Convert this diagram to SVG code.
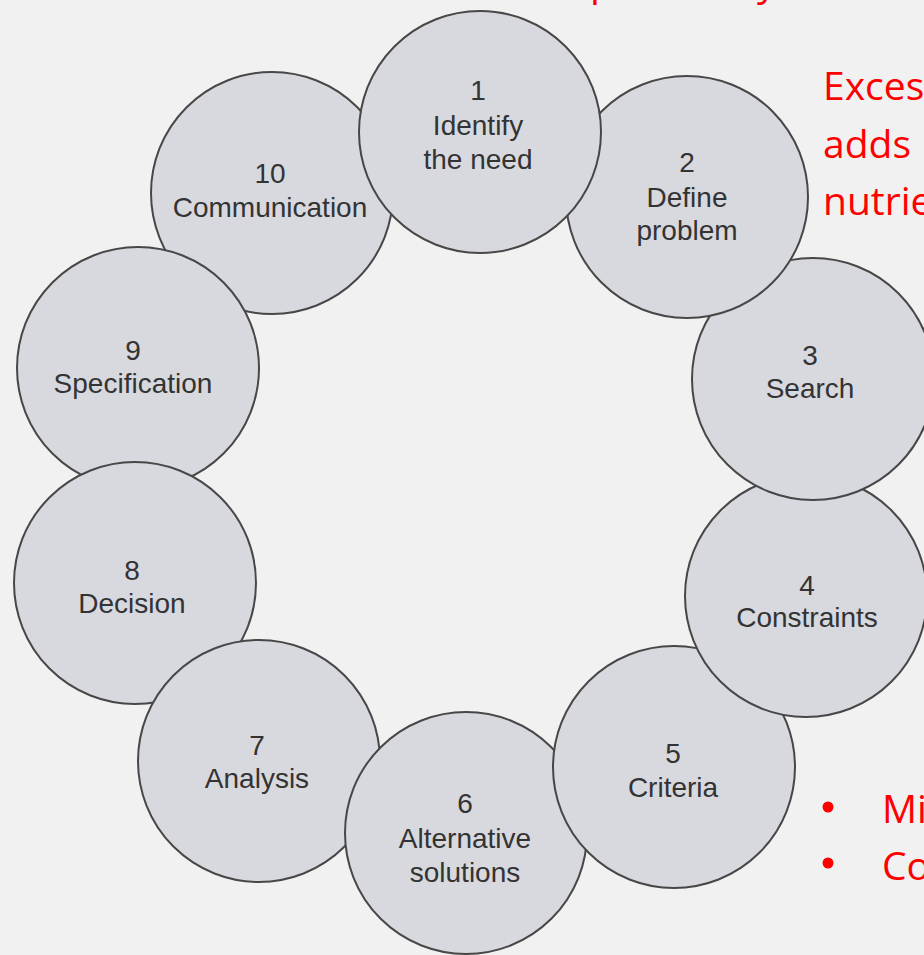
<svg xmlns="http://www.w3.org/2000/svg" width="924" height="955" viewBox="0 0 924 955">
  <style>
    .bubble { fill: #d8d9df; stroke: #474747; stroke-width: 2; }
    .lbl { font-family: "Liberation Sans", Arial, sans-serif; font-size: 28px; fill: #333333; text-anchor: middle; }
    .note { font-family: "Open Sans", "Liberation Sans", sans-serif; font-size: 39px; fill: #ff0000; }
  </style>

  <!-- paper -->
  <rect x="0" y="0" width="924" height="955" fill="#f1f1f2"/>

  <!-- red slide text running off the edges -->
  <g id="notes">
    <text class="note" x="590" y="-4">p</text>
    <text class="note" x="757" y="-4">y</text>
    <text class="note" x="823" y="100">Exces</text>
    <text class="note" x="823" y="158">adds</text>
    <text class="note" x="823" y="215">nutrie</text>
    <circle cx="828" cy="807" r="5.5" fill="#ff0000"/>
    <text class="note" x="882" y="823">Mi</text>
    <circle cx="828" cy="863" r="5.5" fill="#ff0000"/>
    <text class="note" x="882" y="880">Co</text>
  </g>

  <!-- design-process cycle; later stages drawn first so each stage overlaps the next -->
  <g id="stage10">
    <circle class="bubble" cx="272" cy="193" r="121"/>
    <text class="lbl" x="270" y="183">10</text>
    <text class="lbl" x="270" y="217">Communication</text>
  </g>
  <g id="stage9">
    <circle class="bubble" cx="138" cy="368" r="121"/>
    <text class="lbl" x="133" y="360">9</text>
    <text class="lbl" x="133" y="393">Specification</text>
  </g>
  <g id="stage8">
    <circle class="bubble" cx="135" cy="583" r="121"/>
    <text class="lbl" x="132" y="580">8</text>
    <text class="lbl" x="132" y="613">Decision</text>
  </g>
  <g id="stage7">
    <circle class="bubble" cx="259" cy="761" r="121"/>
    <text class="lbl" x="257" y="755">7</text>
    <text class="lbl" x="257" y="788">Analysis</text>
  </g>
  <g id="stage6">
    <circle class="bubble" cx="466" cy="833" r="121"/>
    <text class="lbl" x="465" y="813">6</text>
    <text class="lbl" x="465" y="848">Alternative</text>
    <text class="lbl" x="465" y="882">solutions</text>
  </g>
  <g id="stage5">
    <circle class="bubble" cx="674" cy="767" r="121"/>
    <text class="lbl" x="673" y="763">5</text>
    <text class="lbl" x="673" y="797">Criteria</text>
  </g>
  <g id="stage4">
    <circle class="bubble" cx="806" cy="596" r="121"/>
    <text class="lbl" x="807" y="595">4</text>
    <text class="lbl" x="807" y="627">Constraints</text>
  </g>
  <g id="stage3">
    <circle class="bubble" cx="813" cy="379" r="121"/>
    <text class="lbl" x="810" y="365">3</text>
    <text class="lbl" x="810" y="398">Search</text>
  </g>
  <g id="stage2">
    <circle class="bubble" cx="687" cy="197" r="121"/>
    <text class="lbl" x="687" y="172">2</text>
    <text class="lbl" x="687" y="207">Define</text>
    <text class="lbl" x="687" y="240">problem</text>
  </g>
  <g id="stage1">
    <circle class="bubble" cx="480" cy="132" r="121"/>
    <text class="lbl" x="478" y="100">1</text>
    <text class="lbl" x="478" y="135">Identify</text>
    <text class="lbl" x="478" y="169">the need</text>
  </g>

  <g id="connectors"/>
</svg>
